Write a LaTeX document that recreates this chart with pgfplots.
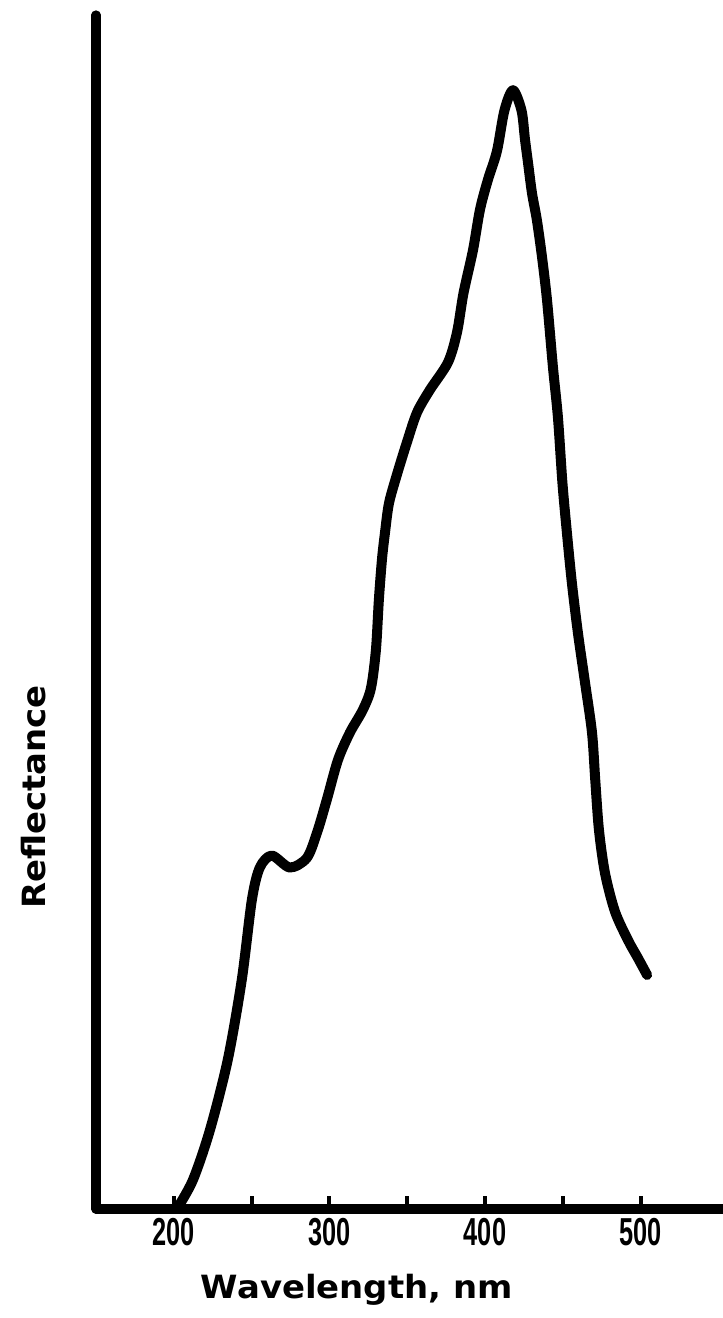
\documentclass[border=0pt]{standalone}
\usepackage{fontspec}
\usepackage{pgfplots}
\pgfplotsset{compat=1.18}
\usepackage{pgfplotstable}
\newfontfamily\tickfont[FakeStretch=0.65]{Liberation Sans}
\newfontfamily\labfont[FakeStretch=1.06]{DejaVu Sans}

\pgfplotstableread{
x y
201.9 0
212.2 2.4
223.2 6.6
234.7 12.5
243.7 19.2
250.2 25.9
255.3 28.6
263.0 29.6
274.6 28.6
285.5 29.4
292.0 31.5
298.4 34.3
305.5 37.6
313.2 39.9
321.5 41.8
326.7 43.6
329.9 46.8
331.8 51.0
333.8 54.4
335.7 56.6
338.3 59.1
343.4 61.5
349.8 64.2
356.3 66.7
364.6 68.6
376.2 70.9
382.0 73.4
386.2 76.7
392.3 80.3
396.8 83.7
401.9 86.2
407.7 88.6
412.5 92.0
418.0 93.7
423.5 92.0
425.7 89.6
427.7 87.6
430.2 85.1
433.4 82.8
436.7 79.7
439.9 76.1
443.7 70.5
446.9 66.3
449.8 60.8
452.7 56.6
455.9 52.4
459.8 48.2
464.3 44.1
468.8 39.9
470.9 35.9
473.3 31.7
477.2 28.1
483.6 24.9
492.0 22.5
498.4 21.0
504.2 19.6
}\reflect

\begin{document}
\begin{tikzpicture}
\useasboundingbox (-48pt,-54.5pt) rectangle (313.5pt,604.5pt);
\begin{axis}[
  at={(0,0)}, anchor=south west,
  scale only axis,
  width=313.5pt, height=597pt,
  xmin=150, xmax=553,
  ymin=0, ymax=100,
  axis lines=left,
  axis line style={-, line width=4.6pt, line cap=round, black},
  clip=false,
  xtick={200,300,400,500},
  xticklabels={200,300,400,500},
  minor xtick={250,350,450},
  ytick=\empty,
  tick align=inside,
  major tick length=6.5pt,
  minor tick length=6.5pt,
  every tick/.style={line width=2pt, black},
  xticklabel style={font=\tickfont\bfseries\fontsize{19.5}{20}\selectfont,
    anchor=north, inner sep=0pt, yshift=-4.5pt},
  xlabel={Wavelength, nm},
  ylabel={Reflectance},
  xlabel style={font=\labfont\bfseries\fontsize{16}{19}\selectfont,
    at={(axis description cs:0.416,0)}, anchor=base, yshift=-44.5pt},
  ylabel style={font=\labfont\bfseries\fontsize{16}{19}\selectfont,
    at={(axis description cs:-0.0989,0.345)}, anchor=center},
]
\addplot[black, line width=5pt, line cap=round, line join=round,
  smooth, tension=0.5] table[x=x, y=y] {\reflect};
\end{axis}
\end{tikzpicture}
\end{document}
